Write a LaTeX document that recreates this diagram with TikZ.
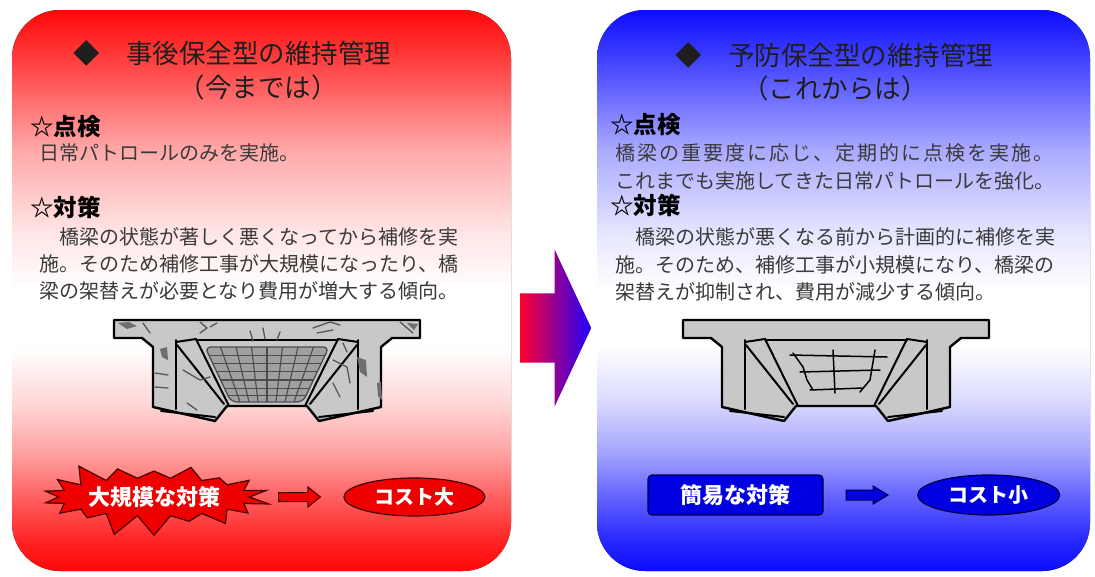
\documentclass[tikz,border=0pt]{standalone}
\usepackage{fontspec}
\newfontfamily\jp{Noto Sans CJK JP}
\usepackage{tikz}
\usepackage{xcolor}
\usetikzlibrary{positioning, shapes.geometric, shapes.symbols, shapes.arrows}

\definecolor{panelred}{RGB}{255,8,8}
\definecolor{panelblue}{RGB}{12,12,255}
\definecolor{titlegray}{RGB}{30,30,30}
\definecolor{bodygray}{RGB}{58,58,58}
\definecolor{girdergray}{RGB}{200,200,200}
\definecolor{netgray}{RGB}{160,160,160}
\definecolor{crackgray}{RGB}{85,85,85}
\definecolor{burstred}{RGB}{238,0,0}
\definecolor{rimred}{RGB}{70,0,0}
\definecolor{boxblue}{RGB}{0,0,225}
\definecolor{rimblue}{RGB}{0,0,70}
\definecolor{arrowred}{RGB}{255,0,45}
\definecolor{arrowblue}{RGB}{30,0,255}

% panel shadings: colour at the ends, white band in the middle
\pgfdeclareverticalshading{redpanel}{100bp}{color(0bp)=(panelred); color(25bp)=(panelred);
  color(27.5bp)=(panelred!90); color(31.5bp)=(panelred!65); color(35.5bp)=(panelred!38);
  color(40bp)=(panelred!16); color(45bp)=(white); color(50bp)=(white); color(55bp)=(panelred!10);
  color(62.5bp)=(panelred!35); color(70bp)=(panelred!75); color(75bp)=(panelred); color(100bp)=(panelred)}
\pgfdeclareverticalshading{bluepanel}{100bp}{color(0bp)=(panelblue); color(25bp)=(panelblue);
  color(27.5bp)=(panelblue!90); color(31.5bp)=(panelblue!65); color(35.5bp)=(panelblue!38);
  color(40bp)=(panelblue!16); color(45bp)=(white); color(50bp)=(white); color(55bp)=(panelblue!10);
  color(62.5bp)=(panelblue!35); color(70bp)=(panelblue!75); color(75bp)=(panelblue); color(100bp)=(panelblue)}

\begin{document}
\begin{tikzpicture}[x=1pt, y=-1pt,
  girderline/.style={draw=black, line width=2.4pt, line join=round, fill=girdergray},
  edgeline/.style={draw=black, line width=2pt, line cap=round},
  crack/.style={draw=crackgray, line width=1.3pt, line cap=round, line join=round},
  patch/.style={fill=crackgray!85},
  netline/.style={draw=black!70, line width=1.1pt},
  titletext/.style={anchor=west, inner sep=0pt, text=titlegray, font=\jp\fontsize{26.5}{32}\selectfont},
  subtitle/.style={inner sep=0pt, text=titlegray, font=\jp\fontsize{26.5}{32}\selectfont},
  headtext/.style={anchor=west, inner sep=0pt, font=\jp\bfseries\fontsize{23.5}{28}\selectfont},
  bodytext/.style={anchor=west, inner sep=0pt, text=bodygray, font=\jp\fontsize{20}{24}\selectfont},
  badge/.style={text=white, font=\jp\bfseries\fontsize{22}{26}\selectfont},
  costtext/.style={ellipse, inner sep=0pt, minimum width=141pt, minimum height=38pt,
    line width=1.2pt, text=white, font=\jp\bfseries\fontsize{20}{24}\selectfont},
  smallarrow/.style={single arrow, inner xsep=0pt, line width=1pt},
  girder/.pic={
    % outline of the box girder
    \filldraw[girderline] (-153,0) -- (153,0) -- (153,18) -- (125,18) -- (114,27) -- (114,87)
      -- (52,101) -- (40,86) -- (-40,86) -- (-52,101) -- (-114,87) -- (-114,27) -- (-125,18)
      -- (-153,18) -- cycle;
    % left web
    \draw[edgeline] (-91,20) -- (-91,89);
    \draw[edgeline] (-91,22) -- (-71,19) -- (-38,86);
    \draw[edgeline] (-90,25) -- (-43,84);
    \draw[edgeline] (-106,91) -- (-52,97);
    % right web
    \draw[edgeline] (91,20) -- (91,89);
    \draw[edgeline] (91,22) -- (71,19) -- (38,86);
    \draw[edgeline] (90,25) -- (43,84);
    \draw[edgeline] (106,91) -- (52,97);
    % deck underside
    \draw[edgeline] (-71,20) -- (71,20);
  }
]
\useasboundingbox (0,0) rectangle (1095,576);
\fill[white] (0,0) rectangle (1095,576);

% Panels
\fill[shading=redpanel, rounded corners=48pt] (12,10) rectangle (511,571);
\fill[shading=bluepanel, rounded corners=48pt] (597,10) rectangle (1090,571);

% Left panel: titles
\node[titletext] (ttlL) at (73,53) {◆　事後保全型の維持管理};
\node[subtitle] (subL) at (258,87) {（今までは）};
% Left panel: inspection / measures
\node[headtext] (chkL) at (30,127) {☆点検};
\node[bodytext] (chkLa) at (39,153) {日常パトロールのみを実施。};
\node[headtext] (cntL) at (30,207) {☆対策};
\node[bodytext] (cntLa) at (39,237) {　橋梁の状態が著しく悪くなってから補修を実};
\node[bodytext] (cntLb) at (39,264) {施。そのため補修工事が大規模になったり、橋};
\node[bodytext] (cntLc) at (39,291) {梁の架替えが必要となり費用が増大する傾向。};

% Right panel: titles
\node[titletext] (ttlR) at (675,55) {◆　予防保全型の維持管理};
\node[subtitle] (subR) at (835,88) {（これからは）};
% Right panel: inspection / measures
\node[headtext] (chkR) at (610,125) {☆点検};
\node[bodytext] (chkRa) at (615,153) {\addfontfeature{LetterSpace=10}橋梁の重要度に応じ、定期的に点検を実施。};
\node[bodytext] (chkRb) at (615,181) {これまでも実施してきた日常パトロールを強化。};
\node[headtext] (cntR) at (610,205) {☆対策};
\node[bodytext] (cntRa) at (615,237) {　橋梁の状態が悪くなる前から計画的に補修を実};
\node[bodytext] (cntRb) at (615,265) {施。そのため、補修工事が小規模になり、橋梁の};
\node[bodytext] (cntRc) at (615,292) {架替えが抑制され、費用が減少する傾向。};

% Middle arrow
\node[single arrow, anchor=tail, inner xsep=0pt, inner ysep=34.5pt, minimum height=71pt,
  single arrow head extend=43.5pt, single arrow tip angle=130,
  left color=arrowred, right color=arrowblue] (bigarrow) at (520,328) {};

% Girders
\pic at (267,320) {girder};
\pic at (836,320) {girder};

% Left girder: net and cracks
\begin{scope}[shift={(267,320)}]
  \filldraw[fill=netgray, draw=black!70, line width=1.3pt, rounded corners=6pt]
    (-62,27) -- (62,27) -- (36,82) -- (-36,82) -- cycle;
  \foreach \i in {1,...,7}
    \draw[netline] ({-62+15.5*\i},27) -- ({-36+9*\i},82);
  \foreach \f in {0.15,0.3,0.45,0.6,0.75,0.88}
    \draw[netline] ({-62+26*\f},{27+55*\f}) -- ({62-26*\f},{27+55*\f});
  % cracks
  \fill[patch] (-149,3) -- (-138,2) -- (-130,6) -- (-140,9) -- cycle;
  \fill[patch] (-107,29) -- (-100,27) -- (-99,40) -- (-105,37) -- cycle;
  \fill[patch] (90,37) -- (99,40) -- (100,57) -- (93,52) -- cycle;
  \fill[patch] (110,63) -- (114,62) -- (115,80) -- (111,76) -- cycle;
  \fill[patch] (140,3) -- (151,4) -- (147,10) -- cycle;
  \draw[crack] (-67,2) -- (-60,8) -- (-67,13);
  \draw[crack] (-57,7) -- (-50,3);
  \draw[crack] (-124,3) -- (-117,13);
  \draw[crack] (-17,11) -- (-14,21);
  \draw[crack] (-4,8) -- (-2,19);
  \draw[crack] (13,12) -- (10,20);
  \draw[crack] (46,8) -- (63,2) -- (73,5);
  \draw[crack] (50,13) -- (66,10);
  \draw[crack] (133,2) -- (146,13);
  \draw[crack] (-112,53) -- (-99,55);
  \draw[crack] (-112,67) -- (-99,68);
  \draw[crack] (-84,50) -- (-67,60) -- (-57,57);
  \draw[crack] (-80,83) -- (-70,90);
  \draw[crack] (66,40) -- (80,47) -- (83,63);
  \draw[crack] (66,63) -- (73,77);
  \draw[crack] (76,23) -- (80,32);
\end{scope}

% Right girder: small cracks
\begin{scope}[shift={(836,320)}]
  \draw[edgeline, line width=1.5pt] (-46,35) -- (51,37);
  \draw[edgeline, line width=1.5pt] (-36,52) -- (44,50);
  \draw[edgeline, line width=1.5pt] (-26,70) -- (27,68);
  \draw[edgeline, line width=1.5pt] (-43,33) -- (-33,47) -- (-29,60) -- (-23,70);
  \draw[edgeline, line width=1.5pt] (-3,30) -- (-1,73);
  \draw[edgeline, line width=1.5pt] (39,30) -- (34,60) -- (24,72);
\end{scope}

% Left panel: bottom row
\node[starburst, starburst points=18, starburst point height=22pt, random starburst=3,
  minimum width=235pt, minimum height=82pt, inner sep=0pt, fill=burstred, draw=rimred,
  line width=1.2pt, badge] (burst) at (154,497) {大規模な対策};
\node[smallarrow, anchor=tail, inner ysep=4pt, minimum height=42pt,
  single arrow head extend=5.5pt, single arrow tip angle=77,
  fill=burstred, draw=rimred] (arrowL) at (278,497) {};
\node[costtext, fill=burstred, draw=rimred, right=22pt of arrowL] (costL) {コスト大};

% Right panel: bottom row
\node[draw=rimblue, fill=boxblue, rounded corners=4pt, line width=1.2pt,
  minimum width=175pt, minimum height=40pt, badge] (simple) at (735.5,495) {簡易な対策};
\node[smallarrow, inner ysep=4.5pt, minimum height=42pt,
  single arrow head extend=4pt, single arrow tip angle=62,
  fill=boxblue, draw=rimblue, right=22pt of simple] (arrowR) {};
\node[costtext, fill=boxblue, draw=rimblue, minimum width=142pt, minimum height=40pt,
  right=28pt of arrowR] (costR) {コスト小};
\end{tikzpicture}
\end{document}
